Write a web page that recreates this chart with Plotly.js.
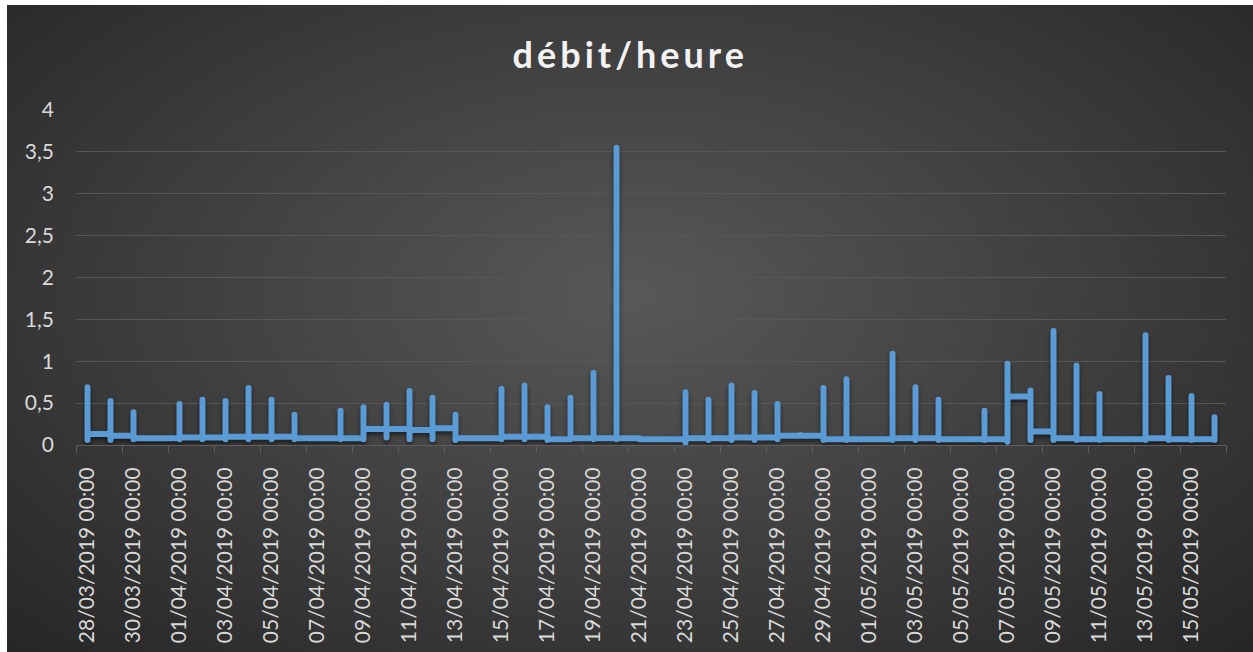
<!DOCTYPE html>
<html><head><meta charset="utf-8">
<script src="https://cdn.plot.ly/plotly-3.0.1.min.js"></script>
<style>
html,body{margin:0;padding:0;background:#fff;}
#bg{position:absolute;left:7px;top:5px;width:1246px;height:647px;background:radial-gradient(ellipse at 50% 45%, #585858 0%, #3d3d3d 55%, #262626 100%);}
#chart{position:absolute;left:0;top:0;width:1253px;height:652px;}
.gtitle{letter-spacing:4px;}
.scatterlayer .js-line{stroke-linejoin:round !important;stroke-linecap:round !important;filter:drop-shadow(0px 3px 2px rgba(0,0,0,0.55));}
</style></head><body>
<div id="bg"></div><div id="chart"></div>
<script>
const dates = ["28/03/2019 00:00","29/03/2019 00:00","30/03/2019 00:00","31/03/2019 00:00","01/04/2019 00:00","02/04/2019 00:00","03/04/2019 00:00","04/04/2019 00:00","05/04/2019 00:00","06/04/2019 00:00",
"07/04/2019 00:00","08/04/2019 00:00","09/04/2019 00:00","10/04/2019 00:00","11/04/2019 00:00","12/04/2019 00:00","13/04/2019 00:00","14/04/2019 00:00","15/04/2019 00:00","16/04/2019 00:00",
"17/04/2019 00:00","18/04/2019 00:00","19/04/2019 00:00","20/04/2019 00:00","21/04/2019 00:00","22/04/2019 00:00","23/04/2019 00:00","24/04/2019 00:00","25/04/2019 00:00","26/04/2019 00:00",
"27/04/2019 00:00","28/04/2019 00:00","29/04/2019 00:00","30/04/2019 00:00","01/05/2019 00:00","02/05/2019 00:00","03/05/2019 00:00","04/05/2019 00:00","05/05/2019 00:00","06/05/2019 00:00",
"07/05/2019 00:00","08/05/2019 00:00","09/05/2019 00:00","10/05/2019 00:00","11/05/2019 00:00","12/05/2019 00:00","13/05/2019 00:00","14/05/2019 00:00","15/05/2019 00:00","16/05/2019 00:00"];

const dayStart = [0.10,0.13,0.11,0.08,0.08,0.09,0.09,0.10,0.10,0.10, 0.08,0.08,0.08,0.19,0.19,0.18,0.20,0.08,0.08,0.10, 0.10,0.07,0.08,0.08,0.08,0.07,0.07,0.08,0.08,0.09, 0.09,0.11,0.11,0.07,0.07,0.07,0.08,0.08,0.07,0.07, 0.07,0.58,0.16,0.08,0.07,0.07,0.07,0.08,0.07,0.07];
const dayHigh  = [0.69,0.525,0.39,0.08,0.49,0.54,0.525,0.68,0.54,0.36, 0.08,0.41,0.45,0.48,0.645,0.565,0.36,0.08,0.67,0.71, 0.45,0.565,0.86,3.55,0.08,0.07,0.63,0.54,0.71,0.62, 0.49,0.12,0.68,0.785,0.07,1.09,0.69,0.54,0.07,0.41, 0.97,0.65,1.36,0.95,0.61,0.07,1.31,0.80,0.585,0.33];
const dayLow   = [0.06,0.06,0.07,0.08,0.07,0.07,0.07,0.07,0.07,0.07, 0.08,0.07,0.07,0.09,0.07,0.07,0.06,0.08,0.07,0.07, 0.06,0.07,0.07,0.07,0.08,0.07,0.03,0.06,0.06,0.06, 0.07,0.11,0.06,0.06,0.07,0.06,0.06,0.06,0.07,0.06, 0.04,0.06,0.06,0.06,0.06,0.07,0.06,0.06,0.06,0.06];
const dayEnd   = [0.13,0.11,0.08,0.08,0.09,0.09,0.10,0.10,0.10,0.08, 0.08,0.08,0.19,0.19,0.18,0.20,0.08,0.08,0.10,0.10, 0.07,0.08,0.08,0.08,0.07,0.07,0.08,0.08,0.09,0.09, 0.11,0.11,0.07,0.07,0.07,0.08,0.08,0.07,0.07,0.07, 0.58,0.16,0.08,0.07,0.07,0.07,0.08,0.07,0.07,0.06];

const xs = [], ys = [];
for (let i = 0; i < dates.length; i++) {
  const c = i + 0.5;
  [dayStart[i], dayHigh[i], dayLow[i], dayEnd[i]].forEach(v => { xs.push(c); ys.push(v); });
}
const tickvals = [], ticktext = [];
for (let i = 0; i < dates.length; i += 2) { tickvals.push(i + 0.5); ticktext.push(dates[i]); }
const bounds = [];
for (let i = 0; i <= dates.length; i += 2) bounds.push(i);

const traces = [
  {x: xs, y: ys, type: 'scatter', mode: 'lines', line: {color: '#5b9bd5', width: 6}, hoverinfo: 'skip'},
  {x: [0, 50], y: [0, 0], xaxis: 'x2', type: 'scatter', mode: 'lines', line: {color: 'rgba(0,0,0,0)', width: 0}, hoverinfo: 'skip'}
];
const axisCol = '#5e5e5e';
const layout = {
  width: 1253, height: 652,
  paper_bgcolor: 'rgba(0,0,0,0)', plot_bgcolor: 'rgba(0,0,0,0)',
  margin: {l: 76, r: 27, t: 110, b: 207, pad: 0},
  separators: ', ',
  font: {family: 'Lato, sans-serif', color: '#d9d9d9', size: 21},
  title: {text: 'débit/heure', x: 0.503, xanchor: 'center', xref: 'container', y: 0.9156, yanchor: 'middle', yref: 'container',
          font: {size: 36, color: '#f2f2f2', family: 'Lato, sans-serif', weight: 'bold'}},
  showlegend: false,
  xaxis: {range: [0, 50], tickmode: 'array', tickvals: tickvals, ticktext: ticktext, tickangle: -90, ticks: '',
          showgrid: false, zeroline: false, showline: true, linecolor: axisCol, linewidth: 1,
          ticklabelstandoff: 13, tickfont: {size: 21, color: '#d9d9d9'}, fixedrange: true},
  xaxis2: {range: [0, 50], overlaying: 'x', anchor: 'y', side: 'bottom', tickmode: 'array', tickvals: bounds,
           ticks: 'outside', ticklen: 7, tickcolor: axisCol, tickwidth: 1, showticklabels: false,
           showgrid: false, zeroline: false, showline: false, fixedrange: true},
  yaxis: {range: [0, 4], tick0: 0, dtick: 0.5, showgrid: true, gridcolor: '#575757', gridwidth: 1, zeroline: false,
          ticks: '', ticklabelstandoff: 21, tickfont: {size: 21, color: '#d9d9d9'}, fixedrange: true}
};
Plotly.newPlot('chart', traces, layout, {displayModeBar: false, staticPlot: true});
</script>
</body></html>
